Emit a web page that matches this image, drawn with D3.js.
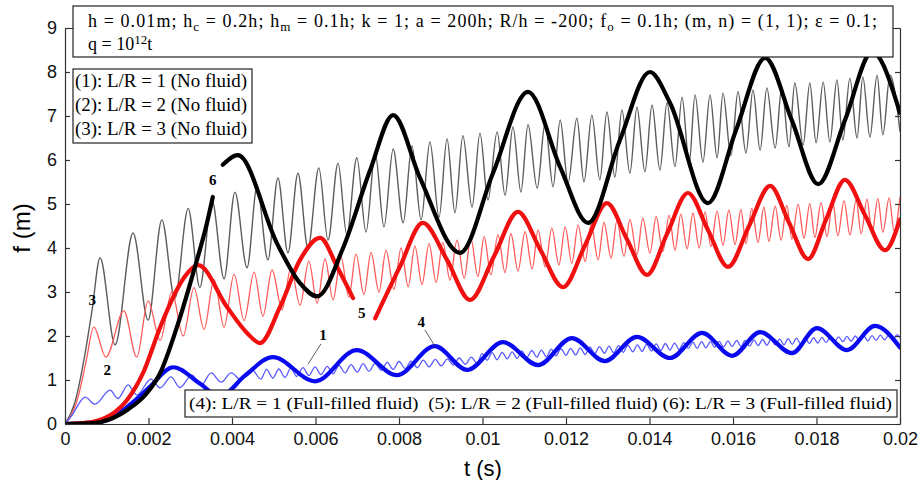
<!DOCTYPE html>
<html>
<head>
<meta charset="utf-8">
<script src="https://cdn.jsdelivr.net/npm/d3@7"></script>
<style>
  body { margin: 0; background: #fff; }
  svg { display: block; }
</style>
</head>
<body>
<svg width="922" height="480"></svg>
<script>
// axis ticks (time stored in ms, labelled in s)
const xTicks = [0, 2, 4, 6, 8, 10, 12, 14, 16, 18, 20];
const xTickLabels = ["0", "0.002", "0.004", "0.006", "0.008", "0.01", "0.012", "0.014", "0.016", "0.018", "0.02"];
const yTicks = [0, 1, 2, 3, 4, 5, 6, 7, 8, 9];

// (1) L/R = 1, no fluid  [t (ms), f (m)]
const noFluid1 = [[0,0],[0.17,0.2],[0.36,0.5],[0.48,0.61],[0.72,0.45],[1.08,0.77],[1.27,0.58],[1.51,0.89],[1.72,0.66],[2.06,1.02],[2.28,0.82],[2.54,1.07],[2.75,0.83],[3.04,1.11],[3.26,0.88],[3.50,1.16],[3.74,0.95],[3.98,1.16],[4.22,1.0],[4.48,1.23],[4.69,1.02],
  [4.83,1.24],[4.98,1.04],[5.12,1.25],[5.27,1.06],[5.41,1.27],[5.55,1.08],[5.70,1.28],[5.84,1.10],[5.99,1.30],[6.13,1.12],[6.28,1.31],[6.42,1.14],[6.56,1.33],[6.71,1.16],[6.85,1.35],[7.00,1.18],[7.14,1.37],[7.28,1.20],[7.43,1.38],[7.57,1.22],[7.72,1.40],[7.86,1.24],[8.00,1.42],[8.15,1.26],[8.29,1.43],[8.44,1.28],[8.58,1.45],[8.72,1.30],[8.87,1.47],[9.01,1.32],[9.16,1.48],[9.30,1.34],[9.44,1.50],[9.59,1.36],[9.73,1.52],[9.87,1.38],
  [9.99,1.60],[10.11,1.45],[10.23,1.62],[10.35,1.46],[10.47,1.63],[10.59,1.48],[10.71,1.64],[10.83,1.49],[10.94,1.66],[11.06,1.51],[11.18,1.67],[11.30,1.52],[11.41,1.68],[11.53,1.53],[11.65,1.70],[11.76,1.55],[11.88,1.71],[12.00,1.56],[12.11,1.72],[12.23,1.57],[12.34,1.73],[12.46,1.58],[12.57,1.75],[12.69,1.60],[12.80,1.76],[12.92,1.61],[13.03,1.77],[13.14,1.62],[13.26,1.78],[13.37,1.63],[13.48,1.79],[13.60,1.64],[13.71,1.80],[13.82,1.65],[13.93,1.81],[14.05,1.66],[14.16,1.82],[14.27,1.67],[14.38,1.83],[14.49,1.68],[14.60,1.84],[14.71,1.69],[14.82,1.85],
  [14.93,1.72],[15.04,1.86],[15.14,1.72],[15.25,1.87],[15.35,1.73],[15.46,1.87],[15.56,1.74],[15.67,1.88],[15.77,1.75],[15.88,1.89],[15.98,1.76],[16.09,1.90],[16.19,1.76],[16.29,1.90],[16.40,1.77],[16.50,1.91],[16.60,1.78],[16.71,1.92],[16.81,1.79],[16.91,1.93],[17.01,1.80],[17.12,1.93],[17.22,1.80],[17.32,1.94],[17.42,1.81],[17.52,1.95],[17.62,1.82],[17.72,1.96],[17.83,1.83],[17.93,1.96],[18.03,1.84],[18.13,1.97],[18.23,1.85],[18.33,1.98],[18.43,1.86],[18.53,1.98],[18.63,1.87],[18.73,1.99],[18.83,1.88],[18.93,2.00],[19.03,1.89],[19.13,2.00],[19.23,1.89],[19.33,2.01],[19.43,1.90],[19.53,2.02],[19.63,1.91],[19.73,2.02],[19.83,1.92],[19.93,2.03],[20.0,1.96]];

// (2) L/R = 2, no fluid
const noFluid2 = [[0,0],[0.12,0.15],[0.31,0.6],[0.50,1.4],[0.69,2.2],[0.98,1.52],[1.41,2.57],[1.72,1.52],[1.99,2.8],[2.28,1.9],[2.56,3.0],[2.83,2.0],[3.09,3.1],[3.33,2.15],[3.57,3.28],[3.81,2.2],[4.05,3.4],[4.29,2.35],[4.53,3.45],[4.74,2.45],[4.96,3.5],[5.20,2.6],[5.41,3.55],[5.63,2.7],[5.84,3.7],
  [6.04,2.75],[6.23,3.75],[6.42,2.82],[6.61,3.8],[6.80,2.88],[6.97,3.86],[7.16,2.94],[7.33,3.9],[7.52,3.0],[7.69,3.95],[7.88,3.06],[8.05,4.0],[8.22,3.12],[8.38,4.05],[8.55,3.17],[8.72,4.1],[8.89,3.22],[9.05,4.13],[9.22,3.27],[9.39,4.18],[9.56,3.31],[9.72,4.22],[9.89,3.35],
  [10.04,4.26],[10.20,3.39],[10.37,4.3],[10.54,3.44],[10.68,4.33],[10.85,3.48],[11.02,4.37],[11.19,3.52],[11.33,4.41],[11.50,3.57],[11.66,4.45],[11.83,3.61],[11.98,4.48],[12.14,3.65],[12.29,4.52],[12.46,3.69],[12.60,4.55],[12.77,3.73],[12.91,4.58],[13.08,3.77],[13.22,4.62],[13.39,3.81],[13.53,4.65],[13.70,3.85],[13.84,4.68],[14.01,3.88],[14.16,4.71],[14.32,3.92],[14.47,4.74],[14.61,3.95],[14.75,4.77],
  [14.90,3.98],[15.04,4.79],[15.19,4.0],[15.33,4.82],[15.47,4.03],[15.62,4.84],[15.76,4.06],[15.90,4.86],[16.05,4.08],[16.19,4.88],[16.31,4.1],[16.45,4.9],[16.60,4.13],[16.74,4.93],[16.86,4.15],[17.01,4.95],[17.15,4.18],[17.29,4.97],[17.41,4.2],[17.56,4.99],[17.70,4.22],[17.84,5.01],[17.96,4.24],[18.11,5.03],[18.25,4.26],[18.39,5.05],[18.51,4.28],[18.66,5.07],[18.80,4.3],[18.95,5.09],[19.07,4.32],[19.21,5.11],[19.33,4.34],[19.47,5.12],[19.59,4.36],[19.74,5.14],[19.86,4.38],[20.0,5.15]];

// (3) L/R = 3, no fluid
const noFluid3 = [[0,0],[0.24,0.5],[0.48,1.6],[0.65,2.6],[0.84,3.78],[1.20,1.8],[1.63,4.34],[1.99,2.36],[2.32,4.64],[2.63,2.85],[2.95,4.9],[3.23,3.1],[3.52,5.09],[3.81,3.3],[4.07,5.27],[4.36,3.55],[4.60,5.39],[4.86,3.73],[5.10,5.59],[5.34,3.89],[5.58,5.7],[5.82,4.0],[6.08,5.82],[6.30,4.18],[6.54,5.93],[6.75,4.3],[6.99,6.05],[7.21,4.36],[7.43,6.16],[7.64,4.48],[7.86,6.25],[8.10,4.57],[8.31,6.32],[8.53,4.64],[8.74,6.41],[8.96,4.7],[9.15,6.48],[9.34,4.8],[9.53,6.55],[9.75,4.93],[9.94,6.61],
  [10.13,5.09],[10.35,6.64],[10.54,5.2],[10.73,6.75],[10.92,5.27],[11.09,6.8],[11.31,5.36],[11.50,6.84],[11.69,5.39],[11.86,6.91],[12.05,5.48],[12.26,6.95],[12.43,5.5],[12.62,7.02],[12.81,5.55],[12.98,7.09],[13.17,5.61],[13.34,7.14],[13.53,5.7],[13.70,7.2],[13.89,5.73],[14.06,7.25],[14.25,5.77],[14.42,7.3],[14.61,5.85],[14.78,7.43],[14.95,5.92],
  [15.09,7.48],[15.28,5.95],[15.45,7.48],[15.62,6.05],[15.76,7.52],[15.95,6.1],[16.12,7.55],[16.31,6.16],[16.48,7.59],[16.65,6.22],[16.81,7.64],[17.01,6.27],[17.17,7.66],[17.34,6.3],[17.48,7.75],[17.68,6.34],[17.84,7.75],[17.99,6.39],[18.16,7.77],[18.32,6.41],[18.49,7.82],[18.63,6.45],[18.80,7.86],[18.97,6.5],[19.11,7.89],[19.28,6.52],[19.45,7.93],[19.59,6.57],[19.76,7.93],[20.0,6.65]];

// (4) L/R = 1, full-filled fluid
const fluid1 = [[0,0],[0.84,0.05],[1.20,0.18],[1.49,0.39],[1.87,0.7],[2.04,0.85],[2.59,1.29],[3.23,0.92],[3.71,0.62],[4.31,1.1],[4.98,1.52],[5.99,0.97],[6.99,1.68],[7.95,1.11],[8.86,1.77],[9.63,1.23],[10.49,1.86],[11.33,1.34],[12.14,1.95],[12.93,1.43],[13.70,1.98],[14.49,1.5],[15.26,2.07],[15.98,1.55],[16.65,2.09],[17.41,1.61],[18.01,2.18],[18.73,1.68],[19.40,2.23],[20.0,1.74]];

// (5) L/R = 2, full-filled fluid (null = gap at the label)
const fluid2 = [[0,0],[0.24,0.01],[0.67,0.05],[1.49,0.55],[1.87,1.16],[2.28,2.2],[2.68,3.05],[2.87,3.35],[3.19,3.61],[3.88,2.66],[4.36,2.07],[4.67,1.84],[5.15,2.66],[5.63,3.73],[6.11,4.23],[6.52,3.57],[6.90,2.86],[7.15,null],[7.43,2.4],[8.02,3.57],[8.57,4.57],[9.15,3.73],[9.70,2.82],[10.28,3.82],[10.85,4.82],[11.38,3.97],[11.93,3.11],[12.46,4.07],[12.98,5.02],[13.46,4.2],[13.94,3.39],[14.42,4.32],[14.92,5.25],[15.40,4.41],[15.88,3.57],[16.38,4.49],[16.89,5.41],[17.34,4.58],[17.80,3.75],[18.23,4.65],[18.68,5.55],[19.16,4.75],[19.64,3.95],[20.0,4.65]];

// (6) L/R = 3, full-filled fluid
const fluid3 = [[0,0],[0.67,0.02],[1.49,0.32],[1.96,0.7],[2.28,1.16],[2.68,2.2],[3.07,3.43],[3.40,4.57],[3.54,5.16],[3.66,null],[3.78,5.89],[4.14,6.11],[5.08,4.1],[5.63,3.2],[6.04,2.9],[6.66,4.0],[7.31,5.77],[7.86,7.02],[8.50,5.6],[9.46,3.89],[10.25,5.7],[11.09,7.55],[11.86,5.84],[12.53,4.57],[13.29,6.45],[14.01,8.0],[14.49,7.3],[15.40,5.02],[16.07,6.67],[16.77,8.32],[17.41,6.9],[18.04,5.45],[18.68,6.9],[19.33,8.45],[20.0,7.07]];

// curve number labels [text, t, f] and leader lines [t1, f1, t2, f2]
const curveLabels = [["3", 0.65, 2.82], ["2", 1.01, 1.23], ["6", 3.54, 5.55], ["5", 7.11, 2.52], ["1", 6.18, 2.02], ["4", 8.53, 2.32]];
const leaders = [[6.13, 1.82, 5.82, 1.36], [8.62, 2.14, 8.86, 1.77]];

const legendNoFluid = ["(1): L/R = 1 (No fluid)", "(2): L/R = 2 (No fluid)", "(3): L/R = 3 (No fluid)"];
const legendFluid = "(4): L/R = 1 (Full-filled fluid)  (5): L/R = 2 (Full-filled fluid) (6): L/R = 3 (Full-filled fluid)";

const margin = { top: 28, right: 22, bottom: 56, left: 65 };
const width = 922 - margin.left - margin.right;
const height = 480 - margin.top - margin.bottom;

const svg = d3.select("svg");
const chart = svg.append("g")
  .attr("transform", `translate(${margin.left}, ${margin.top})`);

const x = d3.scaleLinear().domain([0, 20]).range([0, width]);
const y = d3.scaleLinear().domain([0, 9]).range([height, 0]);

svg.append("defs").append("clipPath").attr("id", "plot")
  .append("rect").attr("width", width).attr("height", height);

const line = d3.line()
  .defined(d => d[1] != null)
  .x(d => x(d[0]))
  .y(d => y(d[1]))
  .curve(d3.curveMonotoneX);

const curves = chart.append("g").attr("clip-path", "url(#plot)");

const series = [
  { data: noFluid3, color: "#5c5c5c", w: 1.4 },
  { data: noFluid2, color: "#ff5a5a", w: 1.3 },
  { data: noFluid1, color: "#5a5aff", w: 1.3 },
  { data: fluid1, color: "#0a0aee", w: 4.2 },
  { data: fluid2, color: "#f01010", w: 4.2 },
  { data: fluid3, color: "#000000", w: 4.2 }
];

curves.selectAll("path")
  .data(series)
  .enter()
  .append("path")
  .attr("d", d => line(d.data))
  .attr("fill", "none")
  .attr("stroke", d => d.color)
  .attr("stroke-width", d => d.w)
  .attr("stroke-linejoin", "round")
  .attr("stroke-linecap", "round");

// leader lines and curve numbers
chart.selectAll(".leader")
  .data(leaders)
  .enter()
  .append("line")
  .attr("x1", d => x(d[0])).attr("y1", d => y(d[1]))
  .attr("x2", d => x(d[2])).attr("y2", d => y(d[3]))
  .attr("stroke", "#333").attr("stroke-width", 0.8);

chart.selectAll(".num")
  .data(curveLabels)
  .enter()
  .append("text")
  .attr("x", d => x(d[1]))
  .attr("y", d => y(d[2]))
  .attr("dy", "0.35em")
  .attr("text-anchor", "middle")
  .style("font-family", "'Liberation Serif', 'Times New Roman', serif")
  .style("font-weight", "bold")
  .style("font-size", "15px")
  .text(d => d[0]);

// axes, MATLAB style with inward ticks
const tickFont = "'Liberation Sans', Arial, sans-serif";

const xAxis = d3.axisBottom(x)
  .tickValues(xTicks)
  .tickFormat((d, i) => xTickLabels[i])
  .tickSizeInner(-6).tickSizeOuter(0).tickPadding(8);
const gx = chart.append("g").attr("transform", `translate(0, ${height})`).call(xAxis);

const yAxis = d3.axisLeft(y)
  .tickValues(yTicks)
  .tickSizeInner(-5).tickSizeOuter(0).tickPadding(8);
const gy = chart.append("g").call(yAxis);

const gr = chart.append("g").attr("transform", `translate(${width}, 0)`)
  .call(d3.axisRight(y).tickValues(yTicks).tickFormat("").tickSizeInner(-5).tickSizeOuter(0));
const gt = chart.append("g")
  .call(d3.axisTop(x).tickValues([]).tickSizeOuter(0));

[gx, gy, gr, gt].forEach(g => {
  g.selectAll("path, line").attr("stroke", "#333").attr("stroke-width", 1.2);
  g.selectAll("text").style("font-family", tickFont).style("font-size", "18px").attr("fill", "#111");
});

// axis titles
svg.append("text")
  .attr("x", 483).attr("y", 476)
  .attr("text-anchor", "middle")
  .style("font-family", tickFont).style("font-size", "22px")
  .text("t (s)");
svg.append("text")
  .attr("transform", "translate(30, 228) rotate(-90)")
  .attr("text-anchor", "middle")
  .style("font-family", tickFont).style("font-size", "24px")
  .text("f (m)");

// parameter box
const serif = "'Liberation Serif', 'Times New Roman', serif";
svg.append("rect")
  .attr("x", 73).attr("y", 6).attr("width", 820).attr("height", 51)
  .attr("fill", "#fff").attr("stroke", "#222").attr("stroke-width", 1.2);

const p1 = svg.append("text")
  .attr("x", 88).attr("y", 27)
  .attr("textLength", 789).attr("lengthAdjust", "spacing")
  .style("font-family", serif).style("font-size", "18px");
const parts = [
  ["h = 0.01m; h", 0], ["c", 1], [" = 0.2h; h", -1], ["m", 1], [" = 0.1h; k = 1; a = 200h; R/h = -200; f", -1],
  ["o", 1], [" = 0.1h; (m, n) = (1, 1); ε = 0.1;", -1]
];
parts.forEach(p => {
  p1.append("tspan")
    .attr("dy", p[1] * 4)
    .style("font-size", p[1] > 0 ? "13px" : "18px")
    .text(p[0]);
});

const p2 = svg.append("text").attr("x", 88).attr("y", 50)
  .style("font-family", serif).style("font-size", "18px");
p2.append("tspan").text("q = 10");
p2.append("tspan").attr("dy", -6).style("font-size", "13px").text("12");
p2.append("tspan").attr("dy", 6).text("t");

// no-fluid legend
svg.append("rect")
  .attr("x", 73).attr("y", 69).attr("width", 179).attr("height", 74)
  .attr("fill", "#fff").attr("stroke", "#222").attr("stroke-width", 1.2);
svg.selectAll(".lg1")
  .data(legendNoFluid)
  .enter()
  .append("text")
  .attr("x", 75)
  .attr("y", (d, i) => 87 + i * 24)
  .attr("textLength", 172).attr("lengthAdjust", "spacingAndGlyphs")
  .style("font-family", serif).style("font-size", "18px")
  .text(d => d);

// full-filled fluid legend
svg.append("rect")
  .attr("x", 185).attr("y", 390).attr("width", 712).attr("height", 27)
  .attr("fill", "#fff").attr("stroke", "#222").attr("stroke-width", 1.2);
svg.append("text")
  .attr("x", 189).attr("y", 409)
  .attr("textLength", 703).attr("lengthAdjust", "spacingAndGlyphs")
  .style("font-family", serif).style("font-size", "17px")
  .style("white-space", "pre")
  .text(legendFluid);
</script>
</body>
</html>
